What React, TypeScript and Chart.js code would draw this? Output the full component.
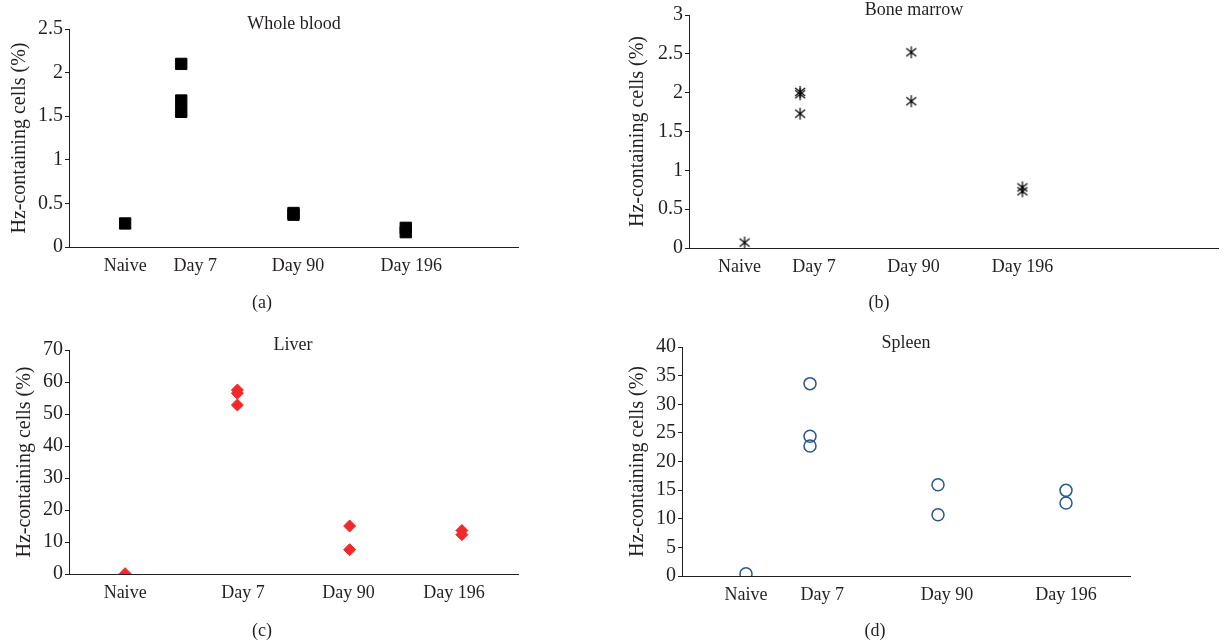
import React, { useEffect, useRef } from "react";
import { Chart, registerables } from "chart.js";

Chart.register(...registerables);

// ---------- data ----------
const CATEGORIES = ["Naive", "Day 7", "Day 90", "Day 196"];
const Y_TITLE = "Hz-containing cells (%)";

// (a) Whole blood
const BLOOD_NAIVE = [0.27];
const BLOOD_DAY7 = [2.1, 1.68, 1.55];
const BLOOD_DAY90 = [0.39, 0.37];
const BLOOD_DAY196 = [0.22, 0.17];
const BLOOD_CAT_X = [1, 2, 4, 6];
const BLOOD_LABEL_X = [1.0, 2.25, 4.08, 6.1];
const BLOOD_Y_MAX = 2.5;
const BLOOD_Y_STEP = 0.5;

// (b) Bone marrow
const MARROW_NAIVE = [0.07];
const MARROW_DAY7 = [2.01, 1.98, 1.73];
const MARROW_DAY90 = [2.52, 1.89];
const MARROW_DAY196 = [0.78, 0.73];
const MARROW_CAT_X = [1, 2, 4, 6];
const MARROW_LABEL_X = [0.91, 2.25, 4.04, 6.0];
const MARROW_Y_MAX = 3;
const MARROW_Y_STEP = 0.5;

// (c) Liver
const LIVER_NAIVE = [0.1];
const LIVER_DAY7 = [57.5, 56.5, 52.8];
const LIVER_DAY90 = [15.0, 7.6];
const LIVER_DAY196 = [13.6, 12.3];
const LIVER_CAT_X = [1, 3, 5, 7];
const LIVER_LABEL_X = [1.0, 3.1, 4.98, 6.86];
const LIVER_Y_MAX = 70;
const LIVER_Y_STEP = 10;

// (d) Spleen
const SPLEEN_NAIVE = [0.4];
const SPLEEN_DAY7 = [33.6, 24.4, 22.7];
const SPLEEN_DAY90 = [15.95, 10.7];
const SPLEEN_DAY196 = [14.96, 12.75];
const SPLEEN_CAT_X = [1, 2, 4, 6];
const SPLEEN_LABEL_X = [1.0, 2.19, 4.14, 6.0];
const SPLEEN_Y_MAX = 40;
const SPLEEN_Y_STEP = 5;

// ---------- styling ----------
const FONT_FAMILY = "'Liberation Serif', 'Times New Roman', serif";
const TEXT_COLOR = "#231f20";

function makeStarCanvas(): HTMLCanvasElement {
  const c = document.createElement("canvas");
  c.width = 14;
  c.height = 14;
  const ctx = c.getContext("2d")!;
  ctx.strokeStyle = "#000";
  ctx.lineWidth = 1.2;
  ctx.beginPath();
  ctx.moveTo(2, 3);
  ctx.lineTo(12, 11);
  ctx.moveTo(12, 3);
  ctx.lineTo(2, 11);
  ctx.moveTo(7, 1);
  ctx.lineTo(7, 13);
  ctx.stroke();
  return c;
}

function toPoints(groups: number[][], catX: number[]) {
  const pts: { x: number; y: number }[] = [];
  groups.forEach((g, i) => g.forEach((v) => pts.push({ x: catX[i], y: v })));
  return pts;
}

type PanelSpec = {
  left: number;
  top: number;
  w: number;
  h: number;
  groups: number[][];
  catX: number[];
  labelX: number[];
  xMax: number;
  yMax: number;
  yStep: number;
  yAxisWidth: number;
  padRight: number;
  padTop: number;
  xAxisHeight: number;
  yTitlePad: number;
  marker: () => any;
};

const PANELS: PanelSpec[] = [
  {
    left: 0, top: 0, w: 612, h: 321,
    groups: [BLOOD_NAIVE, BLOOD_DAY7, BLOOD_DAY90, BLOOD_DAY196],
    catX: BLOOD_CAT_X, labelX: BLOOD_LABEL_X, xMax: 8,
    yMax: BLOOD_Y_MAX, yStep: BLOOD_Y_STEP,
    yAxisWidth: 69, padRight: 94, padTop: 29, xAxisHeight: 74, yTitlePad: 8,
    marker: () => ({ pointStyle: "rect", pointRadius: 8, backgroundColor: "#000", borderColor: "#000", borderWidth: 1 }),
  },
  {
    left: 612, top: 0, w: 613, h: 321,
    groups: [MARROW_NAIVE, MARROW_DAY7, MARROW_DAY90, MARROW_DAY196],
    catX: MARROW_CAT_X, labelX: MARROW_LABEL_X, xMax: 9.52,
    yMax: MARROW_Y_MAX, yStep: MARROW_Y_STEP,
    yAxisWidth: 77, padRight: 3, padTop: 15, xAxisHeight: 73, yTitlePad: 14,
    marker: () => ({ pointStyle: makeStarCanvas(), pointRadius: 7, backgroundColor: "#000", borderColor: "#000", borderWidth: 0 }),
  },
  {
    left: 0, top: 321, w: 612, h: 321,
    groups: [LIVER_NAIVE, LIVER_DAY7, LIVER_DAY90, LIVER_DAY196],
    catX: LIVER_CAT_X, labelX: LIVER_LABEL_X, xMax: 8,
    yMax: LIVER_Y_MAX, yStep: LIVER_Y_STEP,
    yAxisWidth: 69, padRight: 94, padTop: 29, xAxisHeight: 68, yTitlePad: 13,
    marker: () => ({ pointStyle: "rectRot", pointRadius: 6, backgroundColor: "#ee2a2a", borderColor: "#ee2a2a", borderWidth: 1 }),
  },
  {
    left: 612, top: 321, w: 613, h: 321,
    groups: [SPLEEN_NAIVE, SPLEEN_DAY7, SPLEEN_DAY90, SPLEEN_DAY196],
    catX: SPLEEN_CAT_X, labelX: SPLEEN_LABEL_X, xMax: 7,
    yMax: SPLEEN_Y_MAX, yStep: SPLEEN_Y_STEP,
    yAxisWidth: 70, padRight: 95, padTop: 26, xAxisHeight: 66, yTitlePad: 14,
    marker: () => ({ pointStyle: "circle", pointRadius: 6, backgroundColor: "rgba(255,255,255,0)", borderColor: "#2a5591", borderWidth: 1.5 }),
  },
];

const TITLES = [
  { text: "Whole blood", x: 294, y: 23 },
  { text: "Bone marrow", x: 914, y: 9 },
  { text: "Liver", x: 293, y: 344 },
  { text: "Spleen", x: 906, y: 342 },
];

const CAPTIONS = [
  { text: "(a)", x: 262, y: 302 },
  { text: "(b)", x: 879, y: 302 },
  { text: "(c)", x: 262, y: 630 },
  { text: "(d)", x: 875, y: 630 },
];

function buildConfig(spec: PanelSpec): any {
  const xFont = { family: FONT_FAMILY, size: 18 };
  const yFont = { family: FONT_FAMILY, size: 20 };
  return {
    type: "scatter",
    data: {
      datasets: [
        {
          data: toPoints(spec.groups, spec.catX),
          showLine: false,
          ...spec.marker(),
        },
      ],
    },
    options: {
      animation: false,
      responsive: false,
      devicePixelRatio: 1,
      layout: { padding: { left: 0, top: spec.padTop, right: spec.padRight, bottom: 0 } },
      plugins: { legend: { display: false }, tooltip: { enabled: false }, title: { display: false } },
      scales: {
        x: {
          type: "linear",
          min: 0,
          max: spec.xMax,
          grid: { display: false, drawTicks: false },
          border: { display: true, color: TEXT_COLOR, width: 1 },
          afterBuildTicks: (s: any) => {
            s.ticks = spec.labelX.map((v) => ({ value: v }));
          },
          afterFit: (s: any) => {
            s.height = spec.xAxisHeight;
          },
          ticks: {
            autoSkip: false,
            maxRotation: 0,
            minRotation: 0,
            padding: 8,
            color: TEXT_COLOR,
            font: xFont,
            callback: (_v: any, i: number) => CATEGORIES[i],
          },
        },
        y: {
          type: "linear",
          min: 0,
          max: spec.yMax,
          grid: { drawOnChartArea: false, drawTicks: true, tickLength: 4, color: TEXT_COLOR },
          border: { display: true, color: TEXT_COLOR, width: 1 },
          afterFit: (s: any) => {
            s.width = spec.yAxisWidth;
          },
          ticks: {
            stepSize: spec.yStep,
            padding: 2,
            color: TEXT_COLOR,
            font: yFont,
            callback: (v: any) => String(v),
          },
          title: {
            display: true,
            text: Y_TITLE,
            color: TEXT_COLOR,
            font: yFont,
            padding: { top: spec.yTitlePad, bottom: 0 },
          },
        },
      },
    },
  };
}

function Panel({ spec }: { spec: PanelSpec }) {
  const ref = useRef<HTMLCanvasElement>(null);
  useEffect(() => {
    const chart = new Chart(ref.current!, buildConfig(spec));
    return () => chart.destroy();
  }, [spec]);
  return (
    <div style={{ position: "absolute", left: spec.left, top: spec.top, width: spec.w, height: spec.h }}>
      <canvas ref={ref} width={spec.w} height={spec.h} style={{ width: spec.w, height: spec.h, display: "block" }} />
    </div>
  );
}

const textStyle = (x: number, y: number): React.CSSProperties => ({
  position: "absolute",
  left: x,
  top: y,
  transform: "translate(-50%, -50%)",
  fontFamily: FONT_FAMILY,
  fontSize: 18,
  lineHeight: 1,
  color: TEXT_COLOR,
  whiteSpace: "nowrap",
});

export default function App() {
  return (
    <div style={{ position: "absolute", left: 0, top: 0, width: 1225, height: 642, background: "#fff", overflow: "hidden" }}>
      {PANELS.map((p, i) => (
        <Panel key={i} spec={p} />
      ))}
      {TITLES.map((t, i) => (
        <div key={"t" + i} style={textStyle(t.x, t.y)}>{t.text}</div>
      ))}
      {CAPTIONS.map((t, i) => (
        <div key={"c" + i} style={textStyle(t.x, t.y)}>{t.text}</div>
      ))}
    </div>
  );
}
